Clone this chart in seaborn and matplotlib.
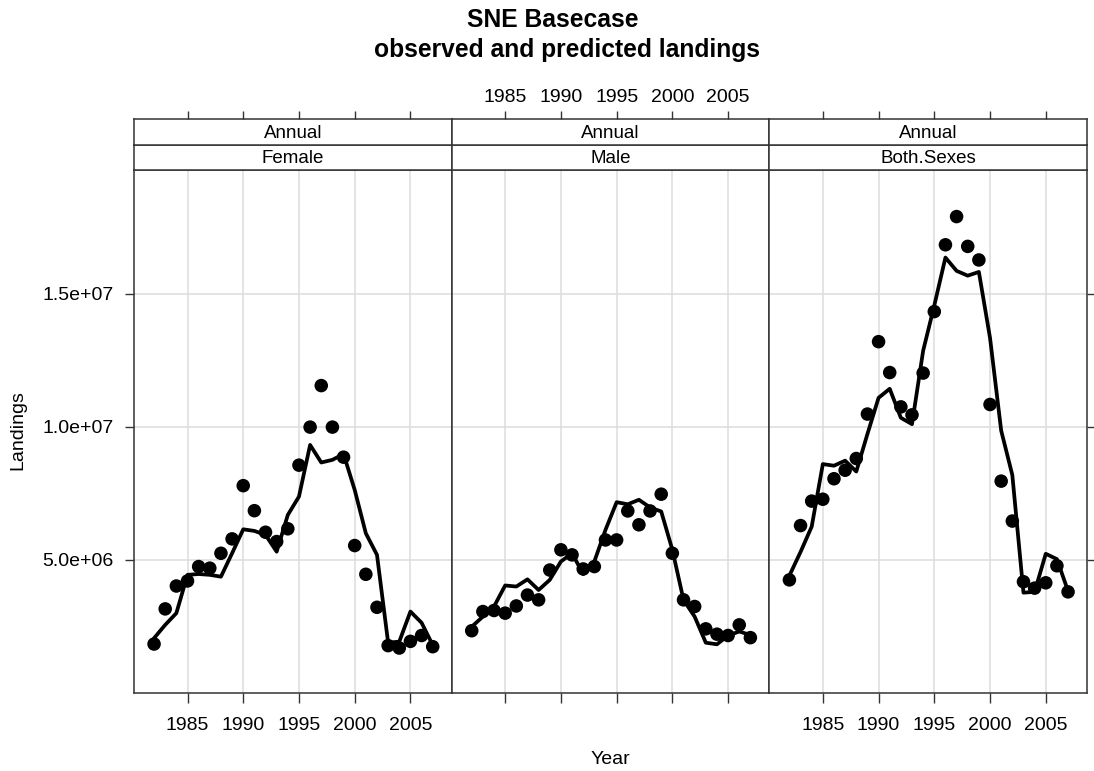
import numpy as np
import pandas as pd
import matplotlib
matplotlib.use("Agg")
import matplotlib.pyplot as plt
import seaborn as sns

years = list(range(1982, 2008))
panels = ["Female", "Male", "Both.Sexes"]

female_obs = [1.84, 3.16, 4.02, 4.21, 4.75, 4.69, 5.25, 5.79, 7.79, 6.85, 6.04, 5.69, 6.17,
              8.56, 9.99, 11.55, 9.99, 8.86, 5.54, 4.46, 3.22, 1.78, 1.69, 1.94, 2.16, 1.74]
female_pred = [2.06, 2.56, 3.00, 4.44, 4.47, 4.44, 4.37, 5.25, 6.15, 6.09, 5.94, 5.31, 6.69,
               7.38, 9.32, 8.66, 8.76, 8.98, 7.63, 6.00, 5.19, 1.89, 1.93, 3.06, 2.64, 1.80]
male_obs = [2.34, 3.06, 3.10, 3.00, 3.27, 3.68, 3.50, 4.62, 5.38, 5.19, 4.66, 4.75, 5.75,
            5.75, 6.84, 6.32, 6.84, 7.47, 5.25, 3.50, 3.25, 2.41, 2.21, 2.16, 2.56, 2.08]
male_pred = [2.49, 2.87, 3.25, 4.04, 4.00, 4.27, 3.87, 4.25, 4.94, 5.25, 4.47, 4.94, 6.13,
             7.17, 7.09, 7.26, 6.97, 6.82, 5.38, 3.50, 2.87, 1.89, 1.83, 2.16, 2.31, 2.18]
both_obs = [4.25, 6.29, 7.21, 7.28, 8.05, 8.37, 8.81, 10.48, 13.20, 12.04, 10.75, 10.45, 12.02,
            14.33, 16.84, 17.90, 16.78, 16.27, 10.84, 7.96, 6.46, 4.18, 3.94, 4.14, 4.78, 3.80]
both_pred = [4.41, 5.30, 6.25, 8.60, 8.54, 8.73, 8.32, 9.73, 11.09, 11.43, 10.34, 10.10, 12.86,
             14.56, 16.36, 15.86, 15.68, 15.82, 13.34, 9.86, 8.19, 3.77, 3.80, 5.23, 5.03, 3.83]

x_ticks = [1985, 1990, 1995, 2000, 2005]
y_ticks = [5e6, 1e7, 1.5e7]
y_tick_labels = ["5.0e+06", "1.0e+07", "1.5e+07"]

obs = {"Female": female_obs, "Male": male_obs, "Both.Sexes": both_obs}
pred = {"Female": female_pred, "Male": male_pred, "Both.Sexes": both_pred}
frames = []
for p in panels:
    frames.append(pd.DataFrame({"Year": years, "Sex": p,
                                "Observed": np.array(obs[p]) * 1e6,
                                "Predicted": np.array(pred[p]) * 1e6}))
df = pd.concat(frames, ignore_index=True)

sns.set_theme(style="white")
plt.rcParams["font.family"] = ["Liberation Sans", "DejaVu Sans"]
plt.rcParams["text.color"] = "black"
plt.rcParams["axes.labelcolor"] = "black"
plt.rcParams["xtick.color"] = "black"
plt.rcParams["ytick.color"] = "black"

W, H = 1094, 771
fig = plt.figure(figsize=(W / 100, H / 100), dpi=100)

left_px, right_px = 134, 1087
pw = (right_px - left_px) / 3.0
top_px, bot_px = 170, 693
strip1 = (145, 170)
strip2 = (119, 145)
xlim = (1980.2, 2008.7)
ylim = (0, 1.965e7)
grid_c = "#dcdcdc"
frame_c = "#333333"

def fx(px):
    return px / W

def fy(py):
    return 1 - py / H

for i, p in enumerate(panels):
    l = left_px + i * pw
    ax = fig.add_axes([fx(l), fy(bot_px), pw / W, (bot_px - top_px) / H])
    sub = df[df["Sex"] == p]
    for xv in x_ticks:
        ax.axvline(xv, color=grid_c, lw=1.1, zorder=0)
    for yv in y_ticks:
        ax.axhline(yv, color=grid_c, lw=1.1, zorder=0)
    sns.lineplot(data=sub, x="Year", y="Predicted", ax=ax, color="black", lw=2.7,
                 estimator=None, zorder=3)
    sns.scatterplot(data=sub, x="Year", y="Observed", ax=ax, color="black", s=95,
                    edgecolor="none", zorder=4)
    ax.set_xlim(*xlim)
    ax.set_ylim(*ylim)
    ax.set_xlabel("")
    ax.set_ylabel("")
    ax.set_xticks(x_ticks)
    ax.set_yticks(y_ticks)
    ax.tick_params(axis="x", which="both", direction="out", length=7, width=1,
                   color=frame_c, labelcolor="black", labelsize=14, pad=10,
                   top=False, bottom=True, labelbottom=(i != 1), labeltop=False)
    if i == 0:
        ax.set_yticklabels(y_tick_labels)
        ax.tick_params(axis="y", direction="out", length=6.5, width=1, color=frame_c,
                       labelcolor="black", labelsize=14, pad=8, left=True, right=False,
                       labelleft=True)
    elif i == 2:
        ax.tick_params(axis="y", direction="out", length=6.5, width=1, color=frame_c,
                       left=False, right=True, labelleft=False, labelright=False)
    else:
        ax.tick_params(axis="y", left=False, right=False, labelleft=False)
    for s in ax.spines.values():
        s.set_color(frame_c)
        s.set_linewidth(1.1)
    ax.grid(False)

    # strip: sex
    sa = fig.add_axes([fx(l), fy(strip1[1]), pw / W, (strip1[1] - strip1[0]) / H])
    sa.set_xlim(*xlim)
    sa.set_xticks([])
    sa.set_yticks([])
    sa.set_facecolor("white")
    for s in sa.spines.values():
        s.set_color(frame_c)
        s.set_linewidth(1.1)
    sa.text(0.5, 0.45, p, transform=sa.transAxes, ha="center", va="center", fontsize=13.5)

    # strip: Annual (carries top ticks)
    sb = fig.add_axes([fx(l), fy(strip2[1]), pw / W, (strip2[1] - strip2[0]) / H])
    sb.set_xlim(*xlim)
    sb.set_xticks(x_ticks)
    sb.set_yticks([])
    sb.set_facecolor("white")
    sb.tick_params(axis="x", direction="out", length=6, width=1, color=frame_c,
                   labelcolor="black", labelsize=14, pad=3, top=True, bottom=False,
                   labeltop=(i == 1), labelbottom=False)
    for s in sb.spines.values():
        s.set_color(frame_c)
        s.set_linewidth(1.1)
    sb.text(0.5, 0.45, "Annual", transform=sb.transAxes, ha="center", va="center",
            fontsize=13.5)

fig.text(fx(553), fy(27), "SNE Basecase", ha="center", va="baseline",
         fontsize=17.7, fontweight="bold")
fig.text(fx(567), fy(57), "observed and predicted landings", ha="center",
         va="baseline", fontsize=17.7, fontweight="bold")
fig.text(fx(610.5), fy(760), "Year", ha="center", va="center", fontsize=14)
fig.text(fx(18), fy(430), "Landings", ha="center", va="center", rotation=90,
         fontsize=14)

fig.savefig("out.png", dpi=100, facecolor="white")
